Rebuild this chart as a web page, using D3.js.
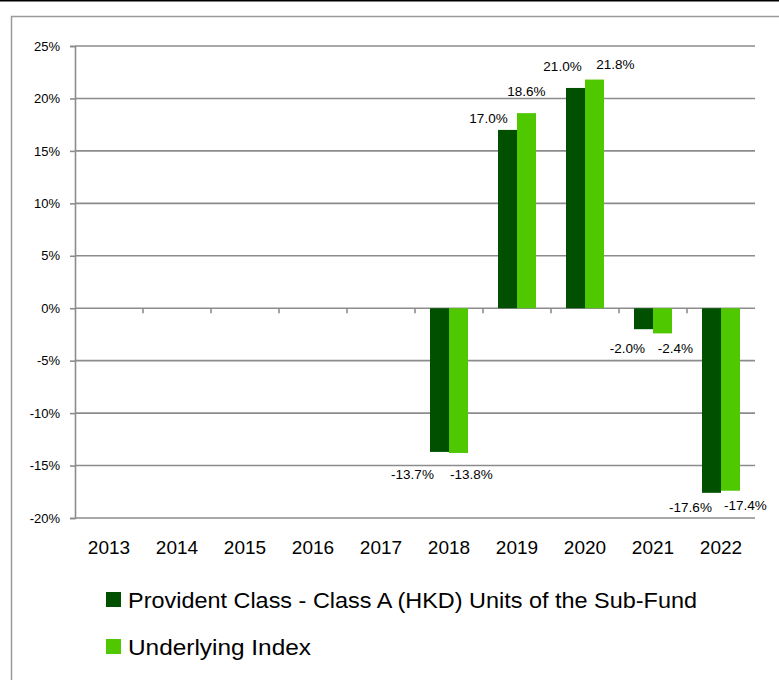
<!DOCTYPE html>
<html><head><meta charset="utf-8">
<script src="https://cdn.jsdelivr.net/npm/d3@7"></script>
<style>
html,body{margin:0;padding:0;background:#fff;}
svg{display:block;}
text{font-family:"Liberation Sans",Arial,sans-serif;fill:#000;}
</style></head>
<body>
<svg id="chart" width="779" height="680"></svg>
<script>
const years = ["2013","2014","2015","2016","2017","2018","2019","2020","2021","2022"];
const seriesNames = ["Provident Class - Class A (HKD) Units of the Sub-Fund","Underlying Index"];
const fundValues = [null,null,null,null,null,-13.7,17.0,21.0,-2.0,-17.6];
const indexValues = [null,null,null,null,null,-13.8,18.6,21.8,-2.4,-17.4];
const yTicks = [-20,-15,-10,-5,0,5,10,15,20,25];
const colors = ["#005000","#50C800"];

// label placement tweaks (layout only), px relative to bar centre / bar end
const labelNudge = [
  {"2018":[-27,22],"2019":[-19,-12],"2020":[-13,-22],"2021":[-16,19],"2022":[-21,14]},
  {"2018":[13,21],"2019":[0,-22],"2020":[21,-15],"2021":[13,15],"2022":[15,15]}
];
const legendWidths = [569,183];

const svg = d3.select("#chart");
// outer frame
svg.append("line").attr("x1",0).attr("x2",779).attr("y1",0.5).attr("y2",0.5).attr("stroke","#000").attr("stroke-width",2);
svg.append("rect").attr("x",11.5).attr("y",16.5).attr("width",800).attr("height",700)
  .attr("fill","none").attr("stroke","#9a9a9a").attr("stroke-width",1.5);

const x0 = d3.scaleBand().domain(years).range([75,755]).paddingInner(0).paddingOuter(0);
const x1 = d3.scaleBand().domain([0,1]).range([0,x0.bandwidth()]).paddingInner(0).paddingOuter(0.79);
const y = d3.scaleLinear().domain([-20,25]).range([518,46]);

const grid = "#8c8c8c";
svg.append("g").selectAll("line").data(yTicks).join("line")
  .attr("x1",75).attr("x2",755).attr("y1",d=>y(d)).attr("y2",d=>y(d))
  .attr("stroke",grid).attr("stroke-width",1.6);

const yAxis = d3.axisLeft(y).tickValues(yTicks).tickSize(5).tickPadding(10).tickFormat(d=>d+"%");
const gy = svg.append("g").attr("transform","translate(75,0)").call(yAxis);
gy.select(".domain").attr("stroke",grid).attr("stroke-width",1.6);
gy.selectAll(".tick line").attr("stroke",grid).attr("stroke-width",1.6);
gy.selectAll(".tick text").style("font-size","13px").attr("fill","#000");

svg.append("g").selectAll("line").data(years.slice(1)).join("line")
  .attr("x1",d=>x0(d)).attr("x2",d=>x0(d)).attr("y1",y(0)).attr("y2",y(0)+5)
  .attr("stroke",grid).attr("stroke-width",1.6);

svg.append("g").selectAll("text").data(years).join("text")
  .attr("x",d=>x0(d)+x0.bandwidth()/2).attr("y",554)
  .attr("text-anchor","middle").style("font-size","19px").text(d=>d);

const all = [fundValues,indexValues];
all.forEach((vals,si)=>{
  const data = years.map((yr,i)=>({yr,v:vals[i]})).filter(d=>d.v!==null);
  svg.append("g").selectAll("rect").data(data).join("rect")
    .attr("x",d=>x0(d.yr)+x1(si)).attr("width",x1.bandwidth())
    .attr("y",d=>y(Math.max(0,d.v))).attr("height",d=>Math.abs(y(d.v)-y(0)))
    .attr("fill",colors[si]);
  svg.append("g").selectAll("text").data(data).join("text")
    .attr("x",d=>x0(d.yr)+x1(si)+x1.bandwidth()/2+labelNudge[si][d.yr][0])
    .attr("y",d=>y(d.v)+labelNudge[si][d.yr][1])
    .attr("dy","0.35em").attr("text-anchor","middle").style("font-size","13.5px")
    .text(d=>d.v.toFixed(1)+"%");
});

const leg = svg.append("g");
seriesNames.forEach((n,i)=>{
  const cy = 600 + i*47;
  leg.append("rect").attr("x",106).attr("y",cy-8).attr("width",15).attr("height",15).attr("fill",colors[i]);
  leg.append("text").attr("x",128).attr("y",cy).attr("dy","0.35em").style("font-size","22px")
    .attr("textLength",legendWidths[i]).attr("lengthAdjust","spacingAndGlyphs").text(n);
});
</script>
</body></html>
